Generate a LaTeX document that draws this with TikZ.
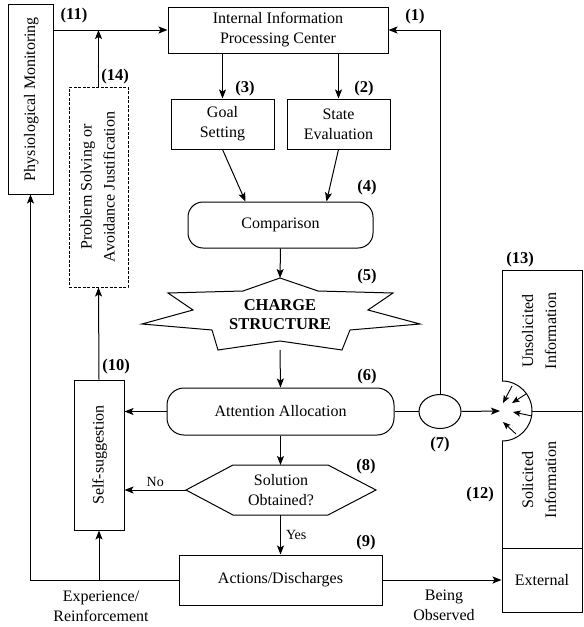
\documentclass[tikz,border=0pt]{standalone}
\usepackage{fontspec}
\usepackage{graphicx}
\setmainfont{Liberation Serif}
\usetikzlibrary{arrows.meta,shapes.geometric}
\newcommand{\myrot}[1]{\rotatebox{90}{\renewcommand{\arraystretch}{1.15}\begin{tabular}{@{}c@{}}#1\end{tabular}}}
\begin{document}
\begin{tikzpicture}[x=1pt,y=-1pt,
  every node/.style={font=\fontsize{16}{20}\selectfont, inner sep=0pt},
  box/.style={draw, line width=1pt, align=center},
  lbl/.style={font=\fontsize{16.5}{20}\selectfont\bfseries},
  arr/.style={line width=1pt, -{Stealth[length=9pt,width=7pt,inset=2pt]}},
  sarr/.style={line width=0.9pt, -{Stealth[length=7.5pt,width=6pt,inset=1.5pt]}},
  ln/.style={line width=1pt},
  small/.style={font=\fontsize{14}{16}\selectfont},
]
\useasboundingbox (0,0) rectangle (584,627);

% boxes
\node[box, minimum width=45, minimum height=190] (phys) at (30.5,99) {\myrot{Physiological Monitoring}};
\node[box, minimum width=220, minimum height=46] (ipc) at (278,30) {Internal Information\\Processing Center};
\node[box, minimum width=103, minimum height=50] (goal) at (222.5,124) {Goal\\Setting};
\node[box, minimum width=103, minimum height=50] (state) at (338.5,124) {State\\Evaluation};
\node[box, rounded corners=15, minimum width=185, minimum height=46] (comp) at (280.5,225) {Comparison};

% star
\draw[ln] (280,278) -- (243,291) -- (168,293) -- (193,310) -- (142,324) -- (212,330) -- (218,350)
  -- (280,341) -- (342,350) -- (350,330) -- (420,324) -- (368,310) -- (393,293) -- (318,291) -- cycle;
\node[align=center, font=\fontsize{16.5}{19}\selectfont\bfseries] (star) at (280,314.5) {CHARGE\\STRUCTURE};
\coordinate (startop) at (280,278);
\coordinate (starbot) at (280,350);

\node[box, rounded corners=17, minimum width=227, minimum height=47] (att) at (280.5,411.5) {Attention Allocation};
\node[draw, ellipse, line width=1pt, minimum width=42, minimum height=34] (ell) at (440,411.5) {};

% hexagon
\draw[ln] (186,490) -- (233,465) -- (328,465) -- (376,490) -- (328,515) -- (233,515) -- cycle;
\node[align=center] (hex) at (281,490) {Solution\\Obtained?};
\coordinate (hexL) at (186,490);
\coordinate (hexT) at (280.5,465);
\coordinate (hexB) at (280.5,515);

\node[box, minimum width=50, minimum height=150] (self) at (99,455) {\myrot{Self-suggestion}};
\node[box, dash pattern=on 3pt off 1.5pt, minimum width=59, minimum height=200] (prob) at (98.5,187) {\myrot{Problem Solving or\\Avoidance Justification}};
\node[box, minimum width=203, minimum height=50] (act) at (280.5,580) {Actions/Discharges};
\node[box, minimum width=80, minimum height=64] (ext) at (542,580) {External};

% right column
\coordinate (hc) at (502,411);
\draw[ln] (502,381) -- (502,270) -- (582,270) -- (582,548);
\draw[ln] (502,441) -- (502,548);
\draw[ln] (502,381) arc[start angle=-90, end angle=90, radius=30];
\draw[ln] (532,411) -- (582,411);
\node (unsol) at (540,331) {\myrot{Unsolicited\\Information}};
\node (sol) at (540,480) {\myrot{Solicited\\Information}};
\draw[sarr] ([shift={(10,-25)}]hc) -- ([shift={(1,-8)}]hc);
\draw[sarr] ([shift={(24,-17)}]hc) -- ([shift={(10,-8)}]hc);
\draw[sarr] ([shift={(30,5)}]hc) -- ([shift={(11,1)}]hc);
\draw[sarr] ([shift={(14,23)}]hc) -- ([shift={(1,11)}]hc);

% connectors
\draw[arr] (phys.east |- ipc.west) -- (ipc.west);
\draw[arr] (prob.north) -- (prob.north |- ipc.west);
\draw[arr] (ell.north) |- (ipc.east);
\draw[arr] (ipc.south -| goal.north) -- (goal.north);
\draw[arr] (ipc.south -| state.north) -- (state.north);
\draw[arr] (goal.south) -- ([xshift=-35pt]comp.north);
\draw[arr] (state.south) -- ([xshift=46pt]comp.north);
\draw[arr] (comp.south) -- (startop);
\draw[arr] (starbot) -- (att.north);
\draw[arr] (att.south) -- (hexT);
\draw[arr] (hexB) -- node[right=5pt, small] {Yes} (act.north);
\draw[arr] (hexL) -- node[above=3pt, small] {No} (self.east |- hexL);
\draw[arr] (att.west) -- (self.east |- att.west);
\draw[ln] (att.east) -- (ell.west);
\draw[arr] (ell.east) -- ([xshift=-2pt]hc);
\draw[arr] (self.north) -- (prob.south);
\draw[arr] (act.west) -| (phys.south);
\draw[arr] (self.south |- act.west) -- (self.south);
\draw[arr] (act.east) -- (ext.west);

% free texts
\node[align=center] (exp) at (101,606) {Experience/\\Reinforcement};
\node[align=center] (obs) at (444,605) {Being\\Observed};

% labels
\node[lbl] (l11) at (74,16) {(11)};
\node[lbl] (l14) at (115,77) {(14)};
\node[lbl] (l3) at (245,89) {(3)};
\node[lbl] (l2) at (364,89) {(2)};
\node[lbl] (l1) at (415,17) {(1)};
\node[lbl] (l4) at (367,188) {(4)};
\node[lbl] (l5) at (367,277) {(5)};
\node[lbl] (l6) at (367,377) {(6)};
\node[lbl] (l7) at (440,445) {(7)};
\node[lbl] (l8) at (366,467) {(8)};
\node[lbl] (l9) at (366,543) {(9)};
\node[lbl] (l10) at (116,367) {(10)};
\node[lbl] (l12) at (480,495) {(12)};
\node[lbl] (l13) at (520,260) {(13)};
\end{tikzpicture}
\end{document}
